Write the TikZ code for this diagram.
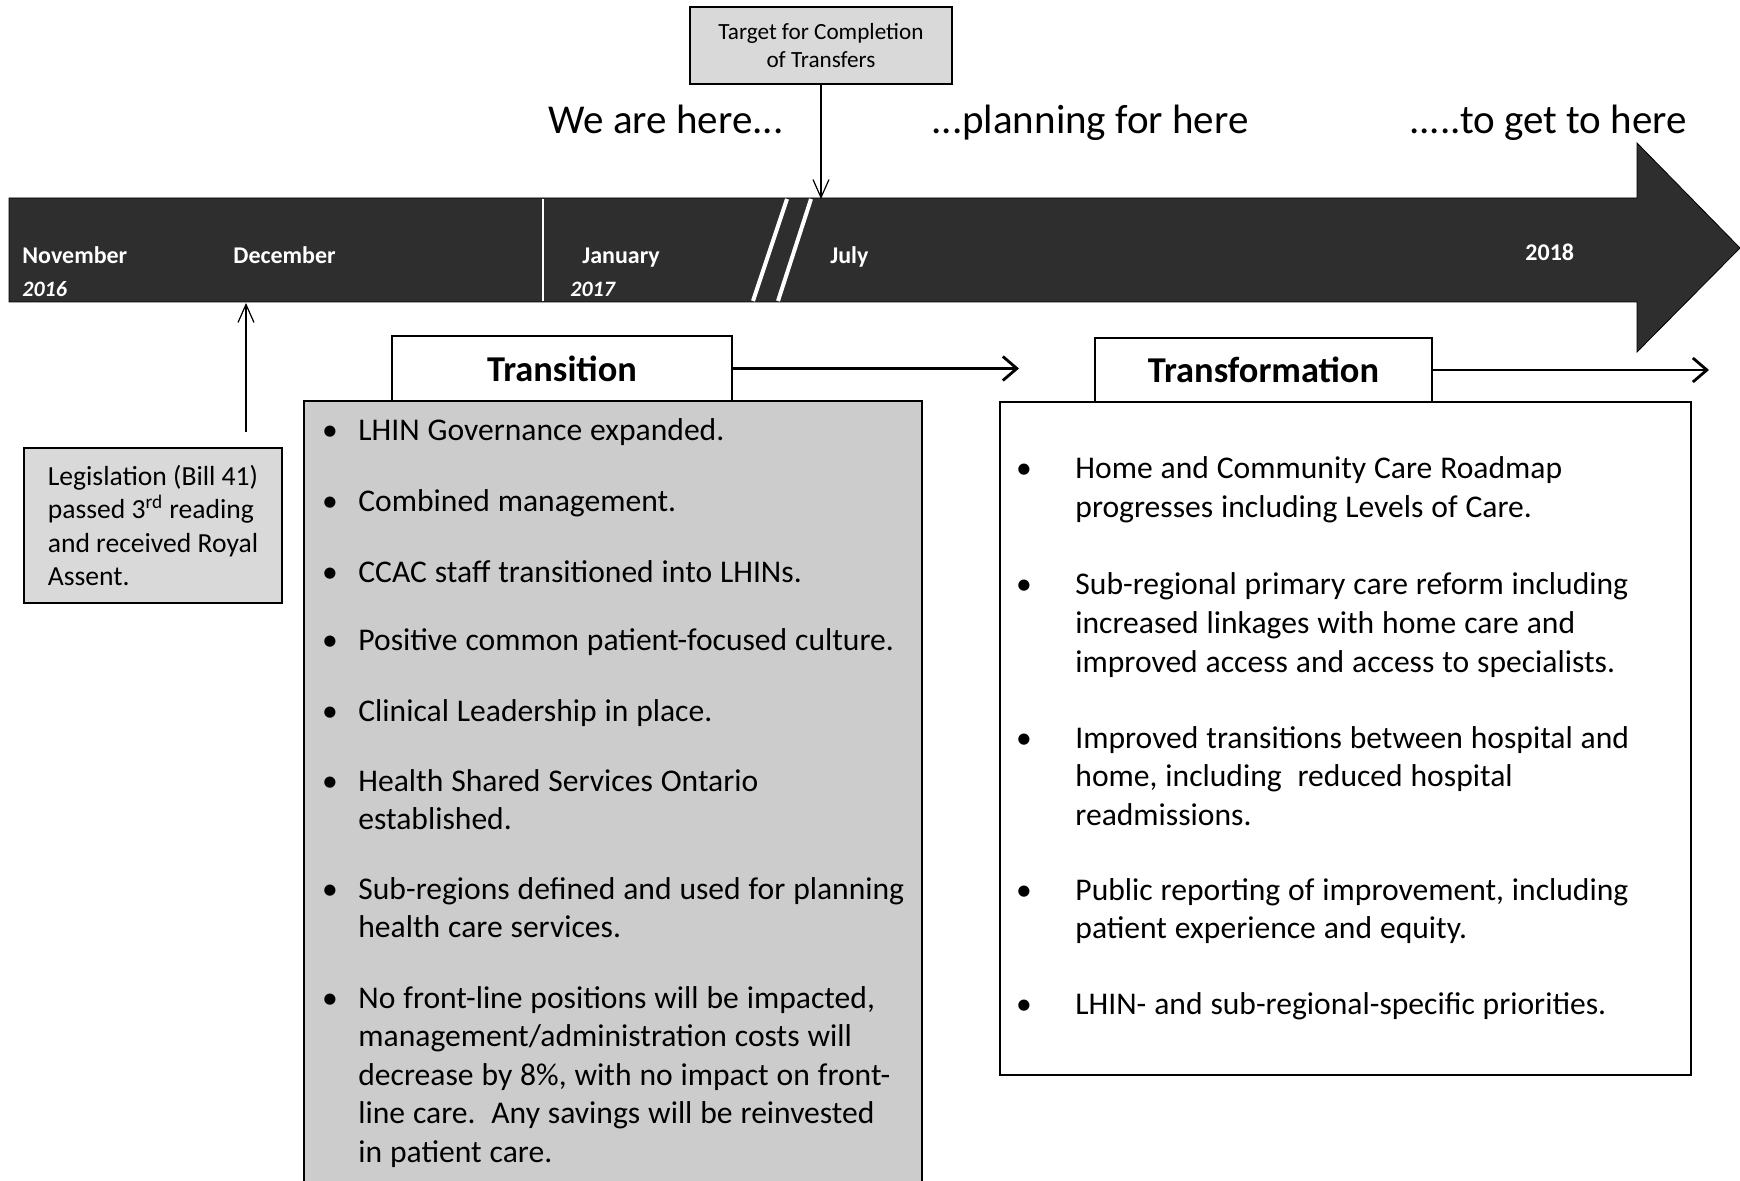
\documentclass[tikz,border=0pt]{standalone}
\usepackage{fontspec}
\setmainfont{Carlito}
\usetikzlibrary{positioning}
\usetikzlibrary{arrows.meta}

\begin{document}
\begin{tikzpicture}[
    x=0.5pt, y=-0.5pt,
    note/.style={rectangle, draw, line width=1pt, fill=black!15, inner sep=0pt},
    head/.style={rectangle, draw, line width=1pt, fill=white, inner sep=0pt,
    font=\bfseries\fontsize{18.2}{22}\selectfont},
    body/.style={rectangle, draw, line width=1pt, inner sep=0pt},
    month/.style={anchor=base west, text=white, inner sep=0pt, font=\bfseries\fontsize{12}{14}\selectfont},
    year/.style={anchor=base west, text=white, inner sep=0pt, font=\bfseries\itshape\fontsize{11}{13}\selectfont},
    here/.style={anchor=base, inner sep=0pt, font=\fontsize{20.5}{24}\selectfont},
    item/.style={anchor=base west, inner sep=0pt, text width=290pt, font=\fontsize{15.8}{19.3}\selectfont,
    execute at begin node={\spaceskip=0.25em\relax}},
    dot/.style={anchor=base, inner sep=0pt, font=\fontsize{15.8}{19.3}\selectfont},
    pointer/.style={-{Straight Barb[length=9pt,width=8pt]}, line width=0.6pt},
    flow/.style={-{Straight Barb[length=7pt,width=12pt]}, line width=1.4pt}
    ]
\useasboundingbox (0,0) rectangle (1740,1181);
\clip (0,0) rectangle (1740,1181);

% timeline arrow
\draw[fill=black!82] (9,198) -- (1637,198) -- (1637,143) -- (1740,248)
    -- (1637,352) -- (1637,302) -- (9,302) -- cycle;
\draw[white, line width=1pt] (543,199) -- (543,301);
\draw[white, line width=2pt] (753,301) -- (787,199);
\draw[white, line width=2pt] (778,301) -- (811,199);

\node[month] (nov) at (22,264) {November};
\node[month] (dec) at (233,264) {December};
\node[month] (jan) at (582,264) {January};
\node[month] (jul) at (830,264) {July};
\node[month] (y18) at (1525,261) {2018};
\node[year] (y16) at (22,297) {2016};
\node[year] (y17) at (570,297) {2017};

\node[here] (now) at (666,134) {We are here...};
\node[here] (plan) at (1090,134) {...planning for here};
\node[here] (goal) at (1548,134) {.....to get to here};

% callouts
\node[note, align=center, minimum width=131pt, minimum height=38.5pt,
    font=\fontsize{11.6}{14.4}\selectfont] (tgt) at (821,45.5)
    {Target for Completion\\of Transfers};
\coordinate (tgtend) at (821,199);
\draw[pointer] (tgt.south) -- (tgtend);

\node[note, align=left, minimum width=129pt, minimum height=77.5pt,
    font=\fontsize{13.8}{16.8}\selectfont] (leg) at (153,525.5)
    {Legislation (Bill 41)\\passed 3\textsuperscript{rd} reading\\and received Royal\\Assent.};
\coordinate (legend) at (246,303);
\draw[pointer] ([yshift=7.5pt]leg.north -| legend) -- (legend);

% transition
\node[body, fill=black!20, minimum width=309pt, minimum height=400pt] (tbody) at (613,801) {};
\node[head, minimum width=170pt, minimum height=32.5pt] (trans) at (562,368.5) {Transition};
\coordinate (tend) at (1019,368);
\draw[flow] (trans.east) -- (trans.east -| tend);

\node[item] (t1) at (358,441) {LHIN Governance expanded.};
\node[item] (t2) at (358,512) {Combined management.};
\node[item] (t3) at (358,582) {CCAC staff transitioned into LHINs.};
\node[item] (t4) at (358,651) {Positive common patient-focused culture.};
\node[item] (t5) at (358,721) {Clinical Leadership in place.};
\node[item] (t6) at (358,791) {Health Shared Services Ontario\\established.};
\node[item] (t7) at (358,899) {Sub-regions defined and used for planning\\health care services.};
\node[item] (t8) at (358,1008) {No front-line positions will be impacted,\\management/administration costs will\\decrease by 8\%, with no impact on front-\\line care.\ \ Any savings will be reinvested\\in patient care.};
\node[dot] at (330,441) {•};
\node[dot] at (330,512) {•};
\node[dot] at (330,582) {•};
\node[dot] at (330,651) {•};
\node[dot] at (330,721) {•};
\node[dot] at (330,791) {•};
\node[dot] at (330,899) {•};
\node[dot] at (330,1008) {•};

% transformation
\node[body, fill=white, minimum width=345.5pt, minimum height=336.5pt] (fbody) at (1345.5,738.5) {};
\node[head, minimum width=168.5pt, minimum height=32pt] (form) at (1263.5,370) {Transformation};
\coordinate (fend) at (1709,370);
\draw[flow] (form.east) -- (form.east -| fend);

\node[item] (f1) at (1075,479) {Home and Community Care Roadmap\\progresses including Levels of Care.};
\node[item] (f2) at (1075,595) {Sub-regional primary care reform including\\increased linkages with home care and\\improved access and access to specialists.};
\node[item] (f3) at (1075,748) {Improved transitions between hospital and\\home, including\ \ reduced hospital\\readmissions.};
\node[item] (f4) at (1075,900) {Public reporting of improvement, including\\patient experience and equity.};
\node[item] (f5) at (1075,1014) {LHIN- and sub-regional-specific priorities.};
\node[dot] at (1024,479) {•};
\node[dot] at (1024,595) {•};
\node[dot] at (1024,748) {•};
\node[dot] at (1024,900) {•};
\node[dot] at (1024,1014) {•};
\end{tikzpicture}
\end{document}
